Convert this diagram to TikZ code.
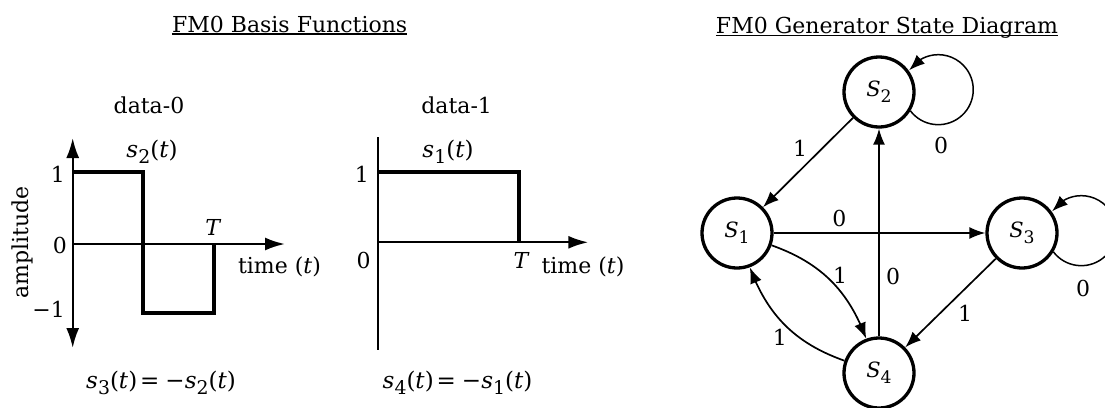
\documentclass[tikz,border=0pt]{standalone}
\usepackage{fontspec}
\usepackage{graphicx}
\setmainfont{DejaVu Serif}
\usetikzlibrary{arrows.meta,bending}
\newcommand{\sbs}[1]{\raisebox{-0.27em}{\scalebox{0.82}{#1}}}
\newcommand{\fsig}[1]{\textit{s}\sbs{#1}(\textit{t})}
\newcommand{\stname}[1]{\textit{S}\sbs{#1}}
\newcommand{\sigeq}[2]{\fsig{#1}\kern3pt=\kern6pt−\fsig{#2}}
\begin{document}
\begin{tikzpicture}[x=1pt,y=1pt,
  every node/.style={font=\fontsize{22}{26}\selectfont, inner sep=0pt},
  txt/.style={anchor=base},
  mathtxt/.style={anchor=base, font=\fontsize{23}{27}\selectfont},
  axis/.style={line width=2.3pt, >={Latex[length=20pt,width=13pt]}},
  sig/.style={line width=4.3pt, line join=miter},
  state/.style={circle, draw, line width=3.3pt, minimum size=70pt, inner sep=0pt, font=\fontsize{21}{25}\selectfont},
  edge/.style={line width=1.7pt, -{Latex[length=16pt,width=12pt]}},
  loopedge/.style={line width=1.5pt, -{Latex[length=16pt,width=12pt]}},
  uline/.style={line width=1.5pt}
]
\fill[white] (0,-407) rectangle (1105,0);
\useasboundingbox (0,-407) rectangle (1105,0);

% titles
\node[txt] (t1) at (289.7,-32) {FM0 Basis Functions};
\draw[uline] ([yshift=-2.2pt]t1.base west) -- ([yshift=-2.2pt]t1.base east);
\node[txt] (t2) at (887,-33) {FM0 Generator State Diagram};
\draw[uline] ([yshift=-2.4pt]t2.base west) -- ([yshift=-2.4pt]t2.base east);

% ---- data-0 plot
\node[txt] (d0) at (149,-113) {data-0};
\draw[axis,<->] (72.7,-348) -- (72.7,-138);
\draw[axis,->] (72.7,-244) -- (285,-244);
\draw[sig] (72.7,-171.7) -- (143.3,-171.7) -- (143.3,-313.3) -- (214.3,-313.3) -- (214.3,-244);
\node[mathtxt] (s2t) at (152,-157) {\fsig{2}};
\node[anchor=base east] (l1) at (65,-182) {1};
\node[anchor=base east] (l0) at (67,-253) {0};
\node[anchor=base east] (lm1) at (65,-317) {−1};
\node[txt] (lT) at (213.5,-235) {\textit{T}};
\node[txt] (ltime) at (279.5,-273) {time (\textit{t})};
\node[txt, rotate=90] (amp) at (28,-242.5) {amplitude};
\node[mathtxt] (eq3) at (161,-388) {\sigeq{3}{2}};

% ---- data-1 plot
\node[txt] (d1) at (456.7,-113) {data-1};
\draw[axis] (378,-137) -- (378,-350);
\draw[axis,->] (378,-242.3) -- (588.3,-242.3);
\draw[sig] (378,-172.3) -- (519.3,-172.3) -- (519.3,-242.3);
\node[mathtxt] (s1t) at (448,-157) {\fsig{1}};
\node[anchor=base east] (r1) at (369,-182) {1};
\node[txt] (r0) at (363.5,-268) {0};
\node[txt] (rT) at (521.7,-268) {\textit{T}};
\node[txt] (rtime) at (583,-273) {time (\textit{t})};
\node[mathtxt] (eq4) at (457.5,-388) {\sigeq{4}{1}};

% ---- state diagram
\node[state] (S1) at (737,-233) {\stname{1}};
\node[state] (S2) at (879,-92) {\stname{2}};
\node[state] (S3) at (1022,-233) {\stname{3}};
\node[state] (S4) at (879,-373) {\stname{4}};

\draw[edge] (S2) -- node[shift={(-8,14.5)}] {1} (S1);
\draw[edge] (S1) -- node[pos=0.31, shift={(0,15)}] {0} (S3);
\draw[edge] (S4) -- node[pos=0.29, shift={(14,0)}] {0} (S2);
\draw[edge] (S3) -- node[shift={(14.5,-10)}] {1} (S4);
\draw[edge] (S1) to[bend left=25] node[shift={(9.6,5.3)}] {1} (S4);
\draw[edge] (S4) to[bend left=25] node[shift={(-5.6,-11.3)}] {1} (S1);

\draw[loopedge] (S2.-31.6) arc[start angle=217.3, end angle=506.5, radius=35];
\path (S2) ++(62,-53) node (lp2) {0};
\draw[loopedge] (S3.-31.6) arc[start angle=217.3, end angle=506.5, radius=35];
\path (S3) ++(61,-55) node (lp3) {0};
\end{tikzpicture}
\end{document}
